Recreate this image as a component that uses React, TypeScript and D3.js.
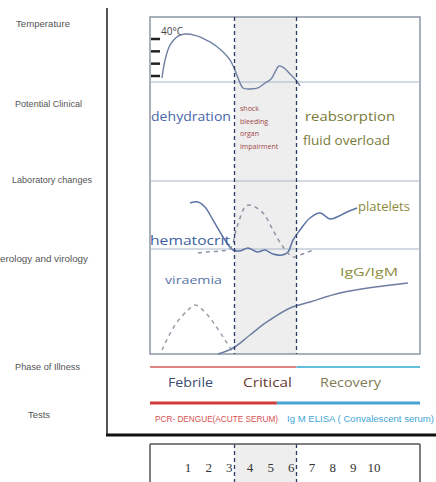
import React from "react";
import * as d3 from "d3";

// ---- data ----
const dayLabels = [1, 2, 3, 4, 5, 6, 7, 8, 9, 10];
const phaseBounds = [3.25, 6.25];
const testSplit = 5.3;

const rowLabels = ["Temperature", "Potential Clinical", "Laboratory changes", "erology and virology", "Phase of Illness", "Tests"];
const phaseNames = ["Febrile", "Critical", "Recovery"];
const testNames = ["PCR- DENGUE(ACUTE SERUM)", "Ig M ELISA ( Convalescent serum)"];
const clinicalCritical = ["shock", "bleeding", "organ", "impairment"];

const tempTicks = [37, 38, 39, 40];
const temperature: [number, number][] = [
  [-0.26, 36.84], [-0.11, 38.3], [0.13, 39.5], [0.52, 40.24], [0.85, 40.4], [1.34, 40.3],
  [2.06, 39.76], [2.65, 39.03], [3.03, 38.3], [3.23, 37.65], [3.42, 36.84], [3.66, 36.03],
  [4.0, 35.95], [4.39, 36.03], [4.73, 36.43], [5.02, 36.76], [5.21, 37.32], [5.4, 37.81],
  [5.65, 37.65], [5.94, 37.16], [6.22, 36.68], [6.42, 36.19],
];
const platelets: [number, number][] = [
  [1.1, 67.6], [1.48, 69.1], [1.82, 61.8], [2.21, 42.6], [2.79, 13.2], [3.18, -1.5],
  [3.52, -2.9], [3.9, 1.5], [4.34, -4.4], [4.73, -1.5], [5.11, -7.4], [5.55, -8.8],
  [5.84, -4.4], [6.08, 13.2], [6.42, 27.9], [6.9, 45.6], [7.39, 52.9], [7.87, 44.1],
  [8.21, 47.1], [8.69, 54.4], [9.18, 60.3],
];
const hematocrit: [number, number][] = [
  [1.48, -5.9], [1.92, -4.4], [2.55, -2.9], [3.03, 0], [3.37, 32.4], [3.76, 61.8],
  [4.0, 64.7], [4.63, 52.9], [5.11, 27.9], [5.6, 2.9], [6.08, -11.8], [6.42, -8.8], [7.05, -1.5],
];
const viraemia: [number, number][] = [
  [-0.26, 3.8], [0.37, 27.6], [1.0, 41.9], [1.34, 46.7], [1.82, 40], [2.31, 27.6],
  [2.79, 13.3], [3.18, 1.9],
];
const antibodies: [number, number][] = [
  [2.45, 0], [3.18, 5.7], [4.0, 18.1], [4.82, 30.5], [5.94, 43.8], [6.9, 49.5],
  [8.35, 58.1], [10.05, 63.8], [11.64, 67.6],
];

// ---- layout ----
const W = 436, H = 482;
const boxL = 150, boxR = 420, boxT = 17, boxB = 354;
const bandLines = [82, 181, 249];

export default function App() {
  const x = d3.scaleLinear().domain([1, 10]).range([188, 374]);
  const yTemp = d3.scaleLinear().domain([37, 40]).range([76, 39]);
  const yLab = d3.scaleLinear().domain([0, 100]).range([249, 181]);
  const ySer = d3.scaleLinear().domain([0, 100]).range([354, 249]);

  const mk = (ys: d3.ScaleLinear<number, number>) =>
    d3.line<[number, number]>().x((d) => x(d[0])).y((d) => ys(d[1])).curve(d3.curveCatmullRom.alpha(0.5));

  const p1 = x(phaseBounds[0]);
  const p2 = x(phaseBounds[1]);
  const ts = x(testSplit);
  const labelFont = "'Liberation Sans Narrow', 'Liberation Sans', Arial, sans-serif";
  const bodyFont = "'Open Sans', 'DejaVu Sans', sans-serif";

  const leftLabelPos: [number, number, number][] = [
    [16, 27, 54], [15, 107, 67], [12, 183, 80], [0, 262, 88], [15, 370, 65], [28, 418, 22],
  ];

  return (
    <svg width={W} height={H} style={{ position: "absolute", left: 0, top: 0, background: "#fff" }}>
      {/* left labels */}
      {rowLabels.map((t, i) => (
        <text key={t} x={leftLabelPos[i][0]} y={leftLabelPos[i][1]} fontSize={9} fill="#555"
          fontFamily={labelFont} textLength={leftLabelPos[i][2]} lengthAdjust="spacingAndGlyphs">{t}</text>
      ))}
      {/* left axis and bottom black line */}
      <line x1={107} x2={107} y1={8} y2={436} stroke="#555" strokeWidth={2} />
      <line x1={106} x2={436} y1={435} y2={435} stroke="#111" strokeWidth={3} />

      {/* shading */}
      <rect x={p1} y={boxT} width={p2 - p1} height={boxB - boxT} fill="#eeeeee" />
      <rect x={p1} y={444} width={p2 - p1} height={H - 444} fill="#eeeeee" />

      {/* main box */}
      <rect x={boxL} y={boxT} width={boxR - boxL} height={boxB - boxT} fill="none" stroke="#8c97a6" strokeWidth={1.5} />
      {bandLines.map((b) => (
        <line key={b} x1={boxL} x2={boxR} y1={b} y2={b} stroke="#a9b6c8" strokeWidth={1.2} />
      ))}

      {/* temperature ticks */}
      {tempTicks.map((t) => (
        <line key={t} x1={boxL + 1} x2={boxL + 10} y1={yTemp(t)} y2={yTemp(t)} stroke="#222" strokeWidth={2.5} />
      ))}
      <text x={161} y={35} fontSize={10} fill="#444" fontFamily={bodyFont}>40°C</text>

      {/* curves */}
      <path d={mk(yTemp)(temperature) || ""} fill="none" stroke="#6f80a3" strokeWidth={1.4} />
      <path d={mk(yLab)(platelets) || ""} fill="none" stroke="#5b74a3" strokeWidth={1.5} />
      <path d={mk(yLab)(hematocrit) || ""} fill="none" stroke="#8f93a3" strokeWidth={1.5} strokeDasharray="4,4" />
      <path d={mk(ySer)(viraemia) || ""} fill="none" stroke="#9a9eaa" strokeWidth={1.5} strokeDasharray="4,4" />
      <path d={mk(ySer)(antibodies) || ""} fill="none" stroke="#6e7ea0" strokeWidth={1.5} />

      {/* phase dashed lines */}
      {[p1, p2].map((p) => (
        <g key={p}>
          <line x1={p} x2={p} y1={boxT} y2={boxB} stroke="#2c3a66" strokeWidth={1.3} strokeDasharray="4,3" />
          <line x1={p} x2={p} y1={444} y2={H} stroke="#2c3a66" strokeWidth={1.3} strokeDasharray="4,3" />
        </g>
      ))}

      {/* clinical texts */}
      <text x={151} y={121} fontSize={12.5} fill="#4a68a8" fontFamily={bodyFont} textLength={80} lengthAdjust="spacingAndGlyphs">dehydration</text>
      {clinicalCritical.map((t, i) => (
        <text key={t} x={240} y={111 + i * 12.5} fontSize={7} fill="#a04848" fontFamily={bodyFont}>{t}</text>
      ))}
      <text x={305} y={121} fontSize={12.5} fill="#7a7a38" fontFamily={bodyFont} textLength={90} lengthAdjust="spacingAndGlyphs">reabsorption</text>
      <text x={303} y={145} fontSize={12.5} fill="#7a7a38" fontFamily={bodyFont} textLength={87} lengthAdjust="spacingAndGlyphs">fluid overload</text>

      {/* lab texts */}
      <text x={358} y={211} fontSize={12} fill="#8a8a3a" fontFamily={bodyFont} textLength={52} lengthAdjust="spacingAndGlyphs">platelets</text>
      <text x={150} y={245} fontSize={12.5} fill="#3d5f9e" fontFamily={bodyFont} textLength={80} lengthAdjust="spacingAndGlyphs">hematocrit</text>
      <text x={165} y={284} fontSize={11.5} fill="#5873a8" fontFamily={bodyFont} textLength={57} lengthAdjust="spacingAndGlyphs">viraemia</text>
      <text x={340} y={276} fontSize={11} fill="#8a8a3a" fontFamily={bodyFont} textLength={58} lengthAdjust="spacingAndGlyphs">IgG/IgM</text>

      {/* phase of illness */}
      <line x1={boxL} x2={p2} y1={367} y2={367} stroke="#e08585" strokeWidth={2} />
      <line x1={p2} x2={boxR} y1={367} y2={367} stroke="#62bedf" strokeWidth={2} />
      <text x={168} y={387} fontSize={12.5} fill="#3a4a72" fontFamily={bodyFont} textLength={45} lengthAdjust="spacingAndGlyphs">{phaseNames[0]}</text>
      <text x={243} y={387} fontSize={12.5} fill="#6a3a30" fontFamily={bodyFont} textLength={49} lengthAdjust="spacingAndGlyphs">{phaseNames[1]}</text>
      <text x={320} y={387} fontSize={12.5} fill="#7e7a52" fontFamily={bodyFont} textLength={61} lengthAdjust="spacingAndGlyphs">{phaseNames[2]}</text>

      {/* tests */}
      <line x1={boxL} x2={ts} y1={403} y2={403} stroke="#d23a3a" strokeWidth={3} />
      <line x1={ts} x2={boxR} y1={403} y2={403} stroke="#47a3d3" strokeWidth={3} />
      <text x={155} y={422} fontSize={8.5} fill="#d65050" fontFamily={labelFont} textLength={123} lengthAdjust="spacingAndGlyphs">{testNames[0]}</text>
      <text x={287} y={422} fontSize={8.5} fill="#3fa5d5" fontFamily={labelFont} textLength={147} lengthAdjust="spacingAndGlyphs">{testNames[1]}</text>

      {/* day box */}
      <line x1={boxL} x2={boxL} y1={444} y2={H} stroke="#555" strokeWidth={1.5} />
      <line x1={boxR} x2={boxR} y1={444} y2={H} stroke="#555" strokeWidth={1.5} />
      <line x1={boxL} x2={boxR} y1={444} y2={444} stroke="#555" strokeWidth={1.5} />
      {dayLabels.map((d) => (
        <text key={d} x={x(d)} y={472} fontSize={13} fill="#333" textAnchor="middle"
          fontFamily="'Liberation Serif', 'DejaVu Serif', serif">{d}</text>
      ))}
    </svg>
  );
}
